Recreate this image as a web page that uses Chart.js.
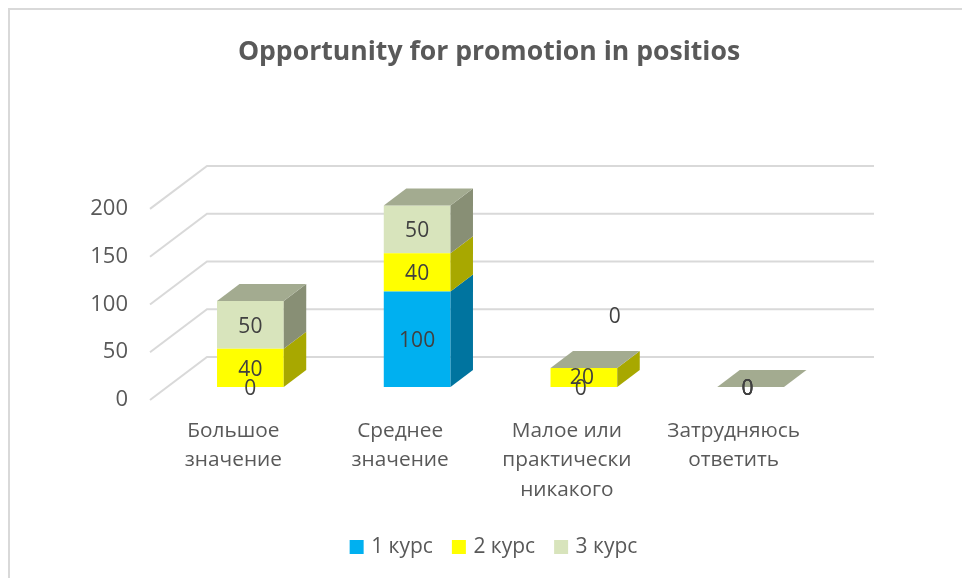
<!DOCTYPE html>
<html>
<head>
<meta charset="utf-8">
<style>html,body{margin:0;padding:0;background:#fff}#wrap{width:962px;height:578px;position:relative}</style>
<script src="https://cdn.jsdelivr.net/npm/chart.js@4"></script>
</head>
<body>
<div id="wrap"><canvas id="c" width="962" height="578"></canvas></div>
<script>
const categories = [["Большое","значение"],["Среднее","значение"],["Малое или","практически","никакого"],["Затрудняюсь","ответить"]];
const course1 = [0,100,0,0];
const course2 = [40,40,20,0];
const course3 = [50,50,0,0];
const seriesNames = ["1 курс","2 курс","3 курс"];
const frontColors = ["#00B0F0","#FFFF00","#D8E4BC"];
const sideColors = ["#00749F","#A8A800","#888F75"];
const topColor = "#A3AB90";
const yTicks = [0,50,100,150,200];
const FONT = "'Open Sans'";
const WALL = {dx:57, dy:43};      // depth of the floor and back wall
const BAR_SHIFT = {dx:17, dy:13}; // how far bars stand behind the front edge
const BAR_DEPTH = {dx:22.5, dy:17};
const LABEL_DROP = 2;
const labelNudges = {"2:2":{dx:31,dy:-53},"0:2":{dx:-3,dy:0},"1:2":{dx:-2,dy:-1},"0:3":{dx:-3,dy:0},"1:3":{dx:-3,dy:0},"2:3":{dx:-3,dy:0},"0:0":{dx:0,dy:0}};

const solid3d = {
  id:'solid3d',
  beforeDraw(chart){
    const {ctx,scales:{x,y}} = chart;
    ctx.save();
    ctx.fillStyle='#fff';ctx.fillRect(0,0,chart.width,chart.height);
    ctx.strokeStyle='#D9D9D9';ctx.lineWidth=2;
    ctx.beginPath();ctx.moveTo(9,chart.height);ctx.lineTo(9,9);ctx.lineTo(chart.width,9);ctx.stroke();
    yTicks.forEach(v=>{
      const py=y.getPixelForValue(v);
      ctx.beginPath();
      ctx.moveTo(x.left,py);
      ctx.lineTo(x.left+WALL.dx,py-WALL.dy);
      ctx.lineTo(x.right+WALL.dx,py-WALL.dy);
      ctx.stroke();
    });
    ctx.restore();
  },
  afterLayout(chart){
    chart.titleBlock.left=16;chart.titleBlock.right=962;
    chart.legend.left=28;chart.legend.right=962;
  },
  beforeDatasetsDraw(chart){
    chart.ctx.save();
    chart.ctx.translate(BAR_SHIFT.dx,-BAR_SHIFT.dy);
  },
  afterDatasetsDraw(chart){
    const ctx=chart.ctx,n=chart.data.datasets.length;
    const d=BAR_DEPTH;
    for(let ds=0;ds<n;ds++){
      chart.getDatasetMeta(ds).data.forEach(bar=>{
        const r=bar.x+bar.width/2,l=bar.x-bar.width/2;
        if(Math.abs(bar.base-bar.y)>0.01){
          ctx.fillStyle=sideColors[ds];
          ctx.beginPath();
          ctx.moveTo(r,bar.base);ctx.lineTo(r+d.dx,bar.base-d.dy);
          ctx.lineTo(r+d.dx,bar.y-d.dy);ctx.lineTo(r,bar.y);ctx.closePath();ctx.fill();
        }
        if(ds===n-1){
          ctx.fillStyle=topColor;
          ctx.beginPath();
          ctx.moveTo(l,bar.y);ctx.lineTo(l+d.dx,bar.y-d.dy);
          ctx.lineTo(r+d.dx,bar.y-d.dy);ctx.lineTo(r,bar.y);ctx.closePath();ctx.fill();
        }
      });
    }
    ctx.fillStyle='#404040';
    ctx.font="21px "+FONT;
    ctx.textAlign='center';ctx.textBaseline='middle';
    for(let ds=0;ds<n;ds++){
      const values=chart.data.datasets[ds].data;
      chart.getDatasetMeta(ds).data.forEach((bar,i)=>{
        const nudge=labelNudges[ds+":"+i]||{dx:0,dy:0};
        ctx.fillText(String(values[i]),bar.x+nudge.dx,(bar.y+bar.base)/2+nudge.dy+LABEL_DROP);
      });
    }
    ctx.restore();
  }
};

new Chart(document.getElementById('c'),{
  type:'bar',
  data:{
    labels:categories,
    datasets:[
      {label:seriesNames[0],data:course1,backgroundColor:frontColors[0]},
      {label:seriesNames[1],data:course2,backgroundColor:frontColors[1]},
      {label:seriesNames[2],data:course3,backgroundColor:frontColors[2]}
    ]
  },
  plugins:[solid3d],
  options:{
    responsive:false,
    animation:false,
    clip:false,
    borderWidth:0,
    categoryPercentage:0.4,
    barPercentage:1,
    layout:{padding:{left:0,right:145,top:0,bottom:10.5}},
    plugins:{
      tooltip:{enabled:false},
      title:{display:true,text:"Opportunity for promotion in positios",color:'#595959',
        font:{family:FONT,size:26.6,weight:'bold',lineHeight:1.2},padding:{top:36,bottom:141}},
      legend:{position:'bottom',labels:{boxWidth:8,boxHeight:8,padding:22,color:'#595959',
        font:{family:FONT,size:21},
        generateLabels(chart){
          return Chart.defaults.plugins.legend.labels.generateLabels(chart).map((item,i)=>
            Object.assign(item,{lineWidth:6,strokeStyle:frontColors[i]}));
        }}}
    },
    scales:{
      x:{stacked:true,grid:{display:false},border:{display:false},
        afterFit(s){s.height=114.5;},
        ticks:{color:'#595959',padding:8,maxRotation:0,autoSkip:false,font:{family:FONT,size:20.8,lineHeight:1.42}}},
      y:{stacked:true,min:0,max:200,grid:{display:false},border:{display:false},
        afterFit(s){s.width=150;},
        afterBuildTicks(s){s.ticks=yTicks.map(v=>({value:v}));},
        ticks:{color:'#595959',padding:14,font:{family:FONT,size:22}}}
    }
  }
});
</script>
</body>
</html>
